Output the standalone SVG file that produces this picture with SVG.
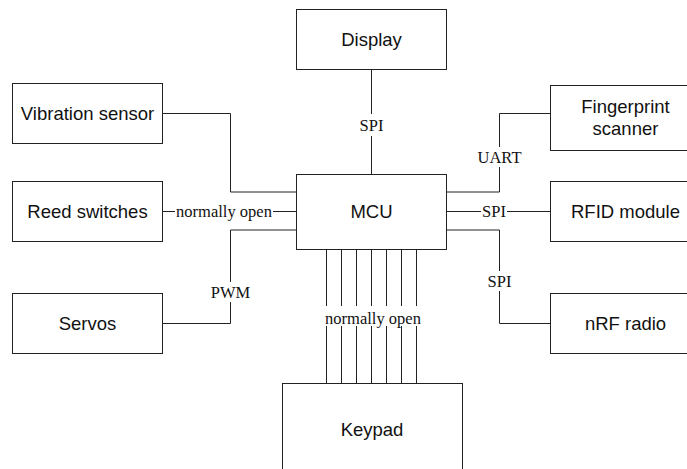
<svg xmlns="http://www.w3.org/2000/svg" width="687" height="469" viewBox="0 0 687 469">
<style>
.box{fill:#fff;stroke:#222;stroke-width:1}
.nt{font-family:"Liberation Sans",Arial,sans-serif;font-size:18.5px;fill:#111;text-anchor:middle;dominant-baseline:central}
.el{fill:none;stroke:#222;stroke-width:1}
.lb{fill:#fff;stroke:none}
.lt{font-family:"Liberation Serif","Times New Roman",serif;font-size:16.5px;fill:#111;text-anchor:middle;dominant-baseline:central}
</style>
<rect width="687" height="469" fill="#fff"/>
<g id="connectors">
<path class="el" d="M371.5,69 V174"/>
<path class="el" d="M163,113.5 H230.5 V192 H297"/>
<path class="el" d="M163,211.5 H297"/>
<path class="el" d="M163,323.5 H230.5 V230 H297"/>
<path class="el" d="M551,113.5 H499.5 V192 H447"/>
<path class="el" d="M447,211.5 H551"/>
<path class="el" d="M447,230 H499.5 V323.5 H551"/>
<path class="el" d="M326.5,249 V383 M341.5,249 V383 M356.5,249 V383 M371.5,249 V383 M386.5,249 V383 M401.5,249 V383 M416.5,249 V383"/>
<rect class="lb" x="359" y="114" width="25" height="22"/>
<text class="lt" x="371.5" y="125">SPI</text>
<rect class="lb" x="476" y="147" width="47" height="20"/>
<text class="lt" x="499.5" y="157">UART</text>
<rect class="lb" x="481" y="203" width="26" height="17"/>
<text class="lt" x="494" y="211.5">SPI</text>
<rect class="lb" x="486" y="271" width="27" height="20"/>
<text class="lt" x="499.5" y="281">SPI</text>
<rect class="lb" x="209" y="282" width="43" height="20"/>
<text class="lt" x="230.5" y="292">PWM</text>
<rect class="lb" x="175" y="203" width="98" height="17"/>
<text class="lt" x="224" y="211.5">normally open</text>
<rect class="lb" x="323" y="306" width="100" height="20"/>
<text class="lt" x="373" y="318">normally open</text>
</g>
<g id="display"><rect class="box" x="296.5" y="9.5" width="150" height="60"/><text class="nt" x="371.5" y="39.5">Display</text></g>
<g id="mcu"><rect class="box" x="296.5" y="174.5" width="150" height="75"/><text class="nt" x="371.5" y="211.5">MCU</text></g>
<g id="vibration"><rect class="box" x="12.5" y="83.5" width="150" height="60"/><text class="nt" x="87.5" y="113.5">Vibration sensor</text></g>
<g id="reed"><rect class="box" x="12.5" y="181.5" width="150" height="60"/><text class="nt" x="87.5" y="211.5">Reed switches</text></g>
<g id="servos"><rect class="box" x="12.5" y="293.5" width="150" height="60"/><text class="nt" x="87.5" y="323.5">Servos</text></g>
<g id="fingerprint"><rect class="box" x="550.5" y="85.5" width="150" height="65"/><text class="nt" x="625.5" y="106.5">Fingerprint</text><text class="nt" x="625.5" y="128">scanner</text></g>
<g id="rfid"><rect class="box" x="550.5" y="181.5" width="150" height="60"/><text class="nt" x="625.5" y="211.5">RFID module</text></g>
<g id="nrf"><rect class="box" x="550.5" y="293.5" width="150" height="60"/><text class="nt" x="625.5" y="323.5">nRF radio</text></g>
<g id="keypad"><rect class="box" x="282.5" y="383.5" width="180" height="90"/><text class="nt" x="372" y="429">Keypad</text></g>
</svg>
